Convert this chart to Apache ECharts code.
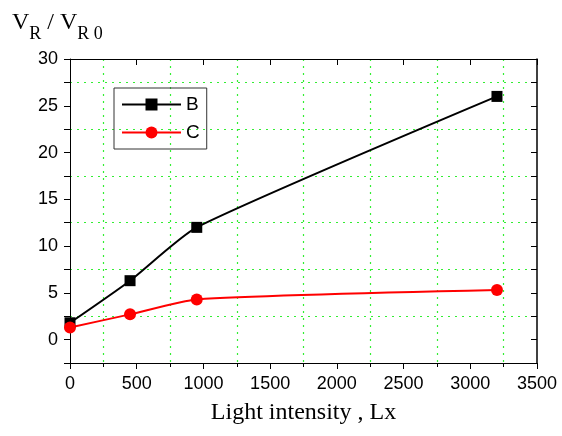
<!DOCTYPE html>
<html><head><meta charset="utf-8">
<script src="https://cdn.jsdelivr.net/npm/echarts@6/dist/echarts.min.js"></script>
<style>html,body{margin:0;padding:0;background:#fff}#c{width:562px;height:436px}</style>
</head><body><div id="c"></div>
<script>
const xValues = [0, 450, 950, 3200];
const seriesB = [1.8, 6.3, 12.0, 26.0];
const seriesC = [1.3, 2.7, 4.3, 5.3];
const xTicks = [0, 500, 1000, 1500, 2000, 2500, 3000, 3500];
const yTicks = [0, 5, 10, 15, 20, 25, 30];
const seriesNames = ['B', 'C'];

const chart = echarts.init(document.getElementById('c'));
const pairs = v => xValues.map((x, i) => [x, v[i]]);
const sans = 'Liberation Sans, Arial, sans-serif';
const serif = 'Liberation Serif, Times New Roman, serif';
const green = '#33ee33';

chart.setOption({
  animation: false,
  backgroundColor: '#fff',
  title: {
    left: 7, top: 6,
    text: '{v|V}{s|R}{v| / V}{s|R 0}',
    textStyle: {
      fontWeight: 'normal',
      rich: {
        v: {fontFamily: serif, fontSize: 24, fontWeight: 'normal', lineHeight: 24, verticalAlign: 'top', color: '#000'},
        s: {fontFamily: serif, fontSize: 18, fontWeight: 'normal', lineHeight: 18, verticalAlign: 'top', padding: [14, 0, 0, 0], color: '#000'}
      }
    }
  },
  legend: {
    left: 114, top: 88,
    orient: 'vertical',
    data: seriesNames,
    itemWidth: 59, itemHeight: 15, itemGap: 9,
    padding: [7, 7, 7, 7],
    borderColor: '#333', borderWidth: 1,
    textStyle: {fontFamily: sans, fontSize: 19, color: '#000'},
    itemStyle: {borderWidth: 0}
  },
  grid: {left: 70, right: 25, top: 59, bottom: 73},
  xAxis: [{
    type: 'value', min: xTicks[0], max: xTicks[xTicks.length - 1], interval: 500,
    name: 'Light intensity , Lx', nameLocation: 'middle', nameGap: 38,
    nameTextStyle: {fontFamily: serif, fontSize: 24, color: '#000'},
    axisLine: {show: true, onZero: false, lineStyle: {color: '#000', width: 1}},
    axisTick: {show: true, inside: false, length: 6, lineStyle: {color: '#000'}},
    minorTick: {show: true, splitNumber: 2, length: 4, lineStyle: {color: '#000'}},
    splitLine: {show: false},
    minorSplitLine: {show: true, lineStyle: {color: green, type: [2, 5], width: 1.2}},
    axisLabel: {fontFamily: sans, fontSize: 18, color: '#000', margin: 12, formatter: v => String(v)}
  }, {
    type: 'value', position: 'top', min: xTicks[0], max: xTicks[xTicks.length - 1], interval: 500,
    axisLine: {show: true, onZero: false, lineStyle: {color: '#000', width: 1}},
    axisTick: {show: true, inside: true, length: 6, lineStyle: {color: '#000'}},
    axisLabel: {show: false}, splitLine: {show: false}
  }],
  yAxis: [{
    type: 'value', min: -2.5, max: 30, interval: 2.5,
    axisLine: {show: true, onZero: false, lineStyle: {color: '#000', width: 1}},
    axisTick: {show: true, inside: false, length: 6, lineStyle: {color: '#000'}},
    splitLine: {show: false},
    axisLabel: {fontFamily: sans, fontSize: 18, color: '#000', margin: 12,
      formatter: v => yTicks.includes(v) ? String(v) : ''}
  }, {
    type: 'value', position: 'right', min: -2.5, max: 30, interval: 5,
    axisLine: {show: true, onZero: false, lineStyle: {color: '#000', width: 1.5}},
    axisTick: {show: true, inside: true, length: 6, lineStyle: {color: '#000'}},
    minorTick: {show: true, splitNumber: 2, length: 6, lineStyle: {color: '#000'}},
    axisLabel: {show: false},
    splitLine: {show: true, lineStyle: {color: green, type: [2, 5], width: 1.2}}
  }],
  series: [{
    name: seriesNames[0], type: 'line', data: pairs(seriesB), smooth: 0.2,
    symbol: 'rect', symbolSize: 11, clip: false,
    lineStyle: {color: '#000', width: 2}, itemStyle: {color: '#000'}, z: 5
  }, {
    name: seriesNames[1], type: 'line', data: pairs(seriesC), smooth: 0.2,
    symbol: 'circle', symbolSize: 12, clip: false,
    lineStyle: {color: '#ff0000', width: 2}, itemStyle: {color: '#ff0000'}, z: 5
  }]
});
</script></body></html>
